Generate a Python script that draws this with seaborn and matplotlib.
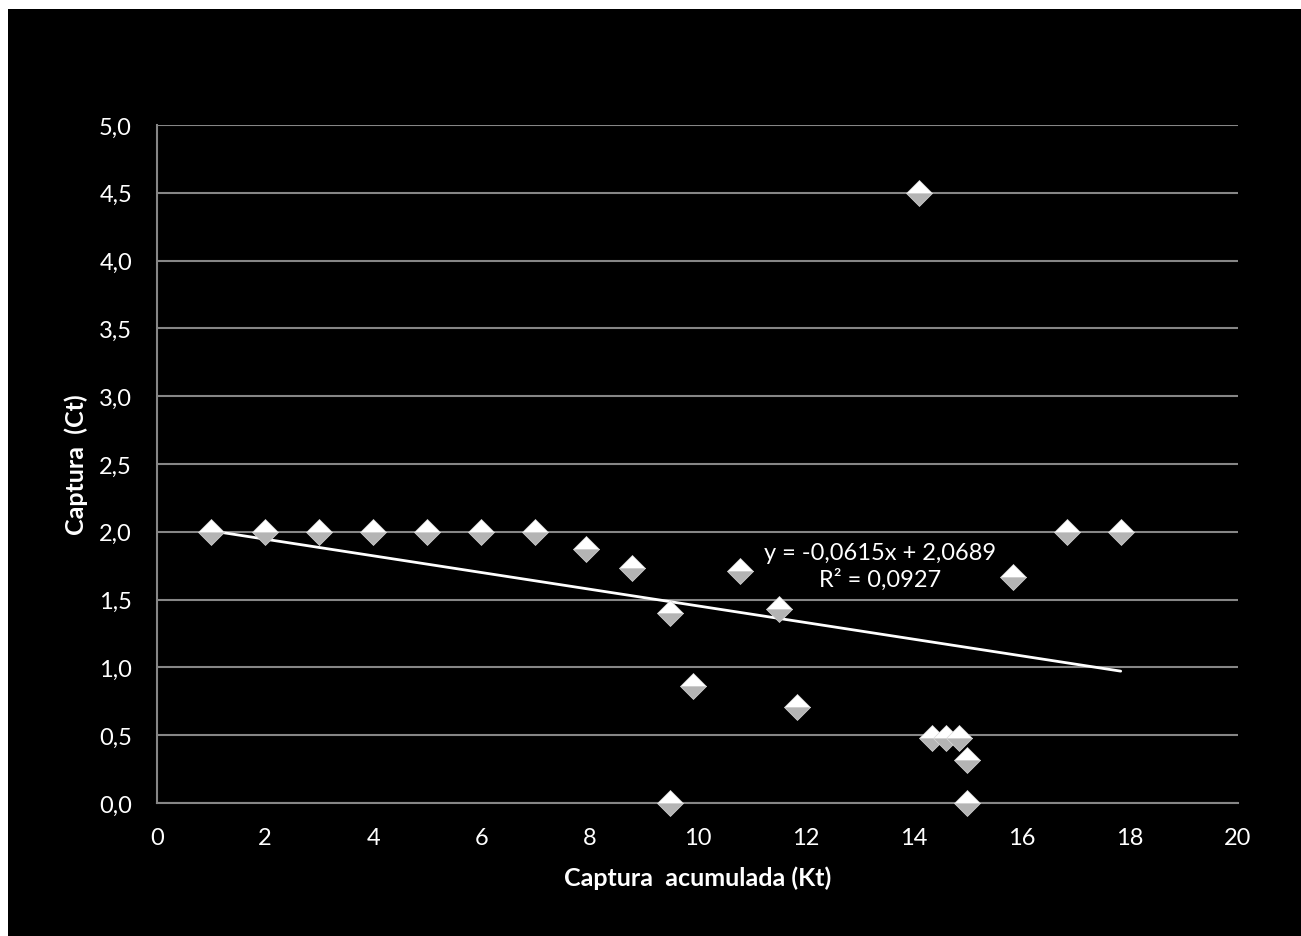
"""
Dispersão captura (Ct) x captura acumulada (Kt) com linha de tendência,
no estilo do gráfico original (fundo preto, losangos brancos).
"""
import matplotlib
matplotlib.use("Agg")
import matplotlib.pyplot as plt
from matplotlib.patches import Rectangle
from matplotlib.ticker import FuncFormatter, MultipleLocator
import numpy as np
import pandas as pd
import seaborn as sns

# dados
captura_acumulada = [1, 2, 3, 4, 5, 6, 7, 7.93, 8.78, 9.5, 9.5, 9.91, 10.78,
                     11.5, 11.85, 14.1, 14.33, 14.6, 14.83, 14.98, 14.98,
                     15.83, 16.83, 17.83]
captura = [2.0, 2.0, 2.0, 2.0, 2.0, 2.0, 2.0, 1.87, 1.73, 1.40, 0.0, 0.86, 1.71,
           1.43, 0.71, 4.5, 0.48, 0.48, 0.48, 0.32, 0.0,
           1.67, 2.0, 2.0]

# coeficientes da tendência linear mostrados no gráfico
slope = -0.0615
intercept = 2.0689
r2 = 0.0927

df = pd.DataFrame({"Kt": captura_acumulada, "Ct": captura})

sns.set_style("dark")
plt.rcParams["font.family"] = ["Lato", "DejaVu Sans"]

W, H = 1301, 937
fig = plt.figure(figsize=(W / 100, H / 100), dpi=100, facecolor="black")
# margem branca no topo e à esquerda
fig.patches.append(Rectangle((0, 1 - 10 / H), 1, 10 / H, transform=fig.transFigure,
                             facecolor="white", edgecolor="none", zorder=-1))
fig.patches.append(Rectangle((0, 0), 8 / W, 1, transform=fig.transFigure,
                             facecolor="white", edgecolor="none", zorder=-1))

ax = fig.add_axes([157 / W, 1 - 804 / H, (1238 - 157) / W, (804 - 126) / H])
ax.set_facecolor("black")

grid_c = "#868686"
ax.set_xlim(0, 20)
ax.set_ylim(0, 5)
ax.xaxis.set_major_locator(MultipleLocator(2))
ax.yaxis.set_major_locator(MultipleLocator(0.5))
ax.yaxis.set_major_formatter(FuncFormatter(lambda v, _: f"{v:.1f}".replace(".", ",")))
ax.xaxis.set_major_formatter(FuncFormatter(lambda v, _: f"{v:.0f}"))

ax.grid(False)
ax.yaxis.grid(True, color=grid_c, linewidth=1.5)
ax.set_axisbelow(True)
for side in ("top", "right"):
    ax.spines[side].set_visible(False)
for side in ("left", "bottom"):
    ax.spines[side].set_visible(True)
    ax.spines[side].set_color(grid_c)
    ax.spines[side].set_linewidth(1.5)

ax.tick_params(axis="both", length=0, labelsize=17, colors="white")
ax.tick_params(axis="y", pad=18)
ax.tick_params(axis="x", pad=17)

# linha de tendência
xs = np.array([min(captura_acumulada), max(captura_acumulada)])
ax.plot(xs, intercept + slope * xs, color="white", linewidth=2, zorder=2)

# losangos: metade de cima branca, de baixo cinza
sns.lineplot(data=df, x="Kt", y="Ct", ax=ax, estimator=None, sort=False,
             linestyle="", marker="D", markersize=13.5, fillstyle="top",
             markerfacecolor="white", markerfacecoloralt="#b4b4b4",
             markeredgecolor="#d8d8d8", markeredgewidth=0.5, zorder=3,
             clip_on=False)

eq_label = f"y = {slope:.4f}x + {intercept:.4f}\nR² = {r2:.4f}".replace(".", ",")
ax.text(13.38, 1.75, eq_label, ha="center", va="center", color="white",
        fontsize=17, multialignment="center", linespacing=1.25)

ax.set_xlabel("Captura  acumulada (Kt)", color="white", fontsize=18,
              fontweight="bold", labelpad=13)
ax.set_ylabel("Captura  (Ct)", color="white", fontsize=18,
              fontweight="bold", labelpad=8)

fig.savefig("out.png", dpi=100, facecolor=fig.get_facecolor())
